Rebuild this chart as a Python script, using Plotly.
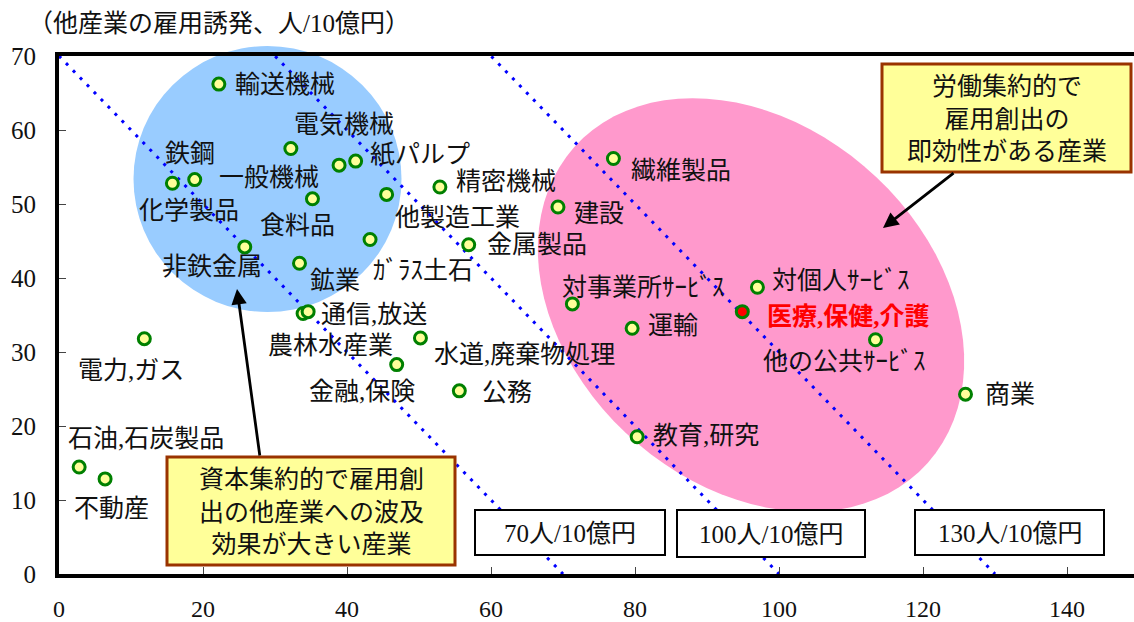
import numpy as np
import plotly.graph_objects as go

# ---------------- data ----------------
industries = ["輸送機械", "電気機械", "化学製品", "鉄鋼", "一般機械", "紙パルプ", "食料品",
              "他製造工業", "非鉄金属", "鉱業", "ｶﾞﾗｽ土石", "精密機械", "金属製品",
              "農林水産業", "通信,放送", "水道,廃棄物処理", "金融,保険", "公務",
              "電力,ガス", "石油,石炭製品", "不動産", "繊維製品", "建設",
              "対事業所ｻｰﾋﾞｽ", "対個人ｻｰﾋﾞｽ", "医療,保健,介護", "運輸",
              "他の公共ｻｰﾋﾞｽ", "商業", "教育,研究"]
direct_employment = [22.2, 32.2, 15.75, 18.85, 38.9, 41.2, 35.2,
                     45.5, 25.8, 33.4, 43.2, 52.9, 56.9,
                     33.9, 34.6, 50.2, 46.9, 55.6,
                     11.85, 2.8, 6.4, 77.0, 69.3,
                     71.3, 97.0, 94.9, 79.6,
                     113.4, 125.9, 80.3]
induced_employment = [66.2, 57.5, 52.8, 53.3, 55.25, 55.8, 50.7,
                      51.3, 44.2, 42.0, 45.2, 52.3, 44.5,
                      35.2, 35.45, 31.9, 28.3, 24.75,
                      31.8, 14.45, 12.85, 56.15, 49.6,
                      36.5, 38.75, 35.45, 33.2,
                      31.65, 24.3, 18.55]
highlight = "医療,保健,介護"
iso_totals = [70, 100, 130]
iso_labels = ["70人/10億円", "100人/10億円", "130人/10億円"]
x_ticks = [0, 20, 40, 60, 80, 100, 120, 140]
y_ticks = [0, 10, 20, 30, 40, 50, 60, 70]
axis_title = "（他産業の雇用誘発、人/10億円）"
capital_note = ["資本集約的で雇用創", "出の他産業への波及", "効果が大きい産業"]
labour_note = ["労働集約的で", "雇用創出の", "即効性がある産業"]

# ---------------- layout geometry / styles ----------------
FIG_W, FIG_H = 1134, 622
M_L, M_R, M_T, M_B = 59, 0, 56, 48
PLOT_W = FIG_W - M_L - M_R
PLOT_H = FIG_H - M_T - M_B
X_RANGE = [0, 149.3]
Y_RANGE = [0, 70]
FONT = "Liberation Serif, Noto Sans CJK JP"
LABEL_SIZE = 25


def pp(px, py):
    """pixel position in the figure -> paper coordinates"""
    return (px - M_L) / PLOT_W, (FIG_H - M_B - py) / PLOT_H


# label placement: (xanchor, x-shift px, y-shift px)
label_pos = {
    "輸送機械": ("left", 14, 0), "電気機械": ("left", 1, 24), "化学製品": ("center", 17, -27),
    "鉄鋼": ("center", -5, 26), "一般機械": ("right", -18, -12), "紙パルプ": ("left", 12, 7),
    "食料品": ("center", -15, -27), "他製造工業": ("left", 6, -23), "非鉄金属": ("right", 19, -20),
    "鉱業": ("left", 9, -17), "ｶﾞﾗｽ土石": ("left", 1, -31), "精密機械": ("left", 14, 5),
    "金属製品": ("left", 16, 0), "農林水産業": ("center", 27, -32), "通信,放送": ("left", 11, -3),
    "水道,廃棄物処理": ("left", 12, -17), "金融,保険": ("right", 20, -27), "公務": ("left", 21, -2),
    "電力,ガス": ("center", -13, -32), "石油,石炭製品": ("left", -13, 29), "不動産": ("left", -33, -30),
    "繊維製品": ("left", 16, -12), "建設": ("left", 14, -7), "対事業所ｻｰﾋﾞｽ": ("left", -12, 16),
    "対個人ｻｰﾋﾞｽ": ("left", 13, 7), "医療,保健,介護": ("left", 23, -5), "運輸": ("left", 14, 3),
    "他の公共ｻｰﾋﾞｽ": ("right", 52, -22), "商業": ("left", 17, 0), "教育,研究": ("left", 14, 1),
}

fig = go.Figure()

# iso-employment dotted lines (direct + induced = total)
for t in iso_totals:
    fig.add_trace(go.Scatter(x=[0, t], y=[t, 0], mode="lines",
                             line=dict(color="#0000ff", width=3, dash="3px,7px"),
                             hoverinfo="skip", showlegend=False))

# points
fill_colors = ["#ff0000" if n == highlight else "#ffff99" for n in industries]
fig.add_trace(go.Scatter(x=direct_employment, y=induced_employment, mode="markers",
                         marker=dict(size=12, color=fill_colors,
                                     line=dict(color="#008000", width=3)),
                         text=industries, showlegend=False))

shapes = []
# blue circle (capital-intensive)
x0, y0 = pp(133.5, 312)
x1, y1 = pp(401.5, 46)
shapes.append(dict(type="circle", xref="paper", yref="paper", x0=x0, y0=y0, x1=x1, y1=y1,
                   fillcolor="#99ccff", line=dict(width=0), layer="below"))
# pink rotated ellipse (labour-intensive)
cx, cy, a, b, th = 751, 305, 237, 179, np.deg2rad(41.8)
tt = np.linspace(0, 2 * np.pi, 90, endpoint=False)
ex = cx + a * np.cos(th) * np.cos(tt) - b * np.sin(th) * np.sin(tt)
ey = cy + a * np.sin(th) * np.cos(tt) + b * np.cos(th) * np.sin(tt)
pts = [pp(px, py) for px, py in zip(ex, ey)]
path = "M " + " L ".join(f"{p[0]:.5f},{p[1]:.5f}" for p in pts) + " Z"
shapes.append(dict(type="path", xref="paper", yref="paper", path=path,
                   fillcolor="#ff99cc", line=dict(width=0), layer="below"))

# iso-line label boxes
iso_boxes = [(475, 510, 665, 555), (677, 510, 865, 557), (915, 510, 1104, 555)]
annotations = []
for (bx0, by0, bx1, by1), lab in zip(iso_boxes, iso_labels):
    px0, py0 = pp(bx0, by1)
    px1, py1 = pp(bx1, by0)
    shapes.append(dict(type="rect", xref="paper", yref="paper", x0=px0, y0=py0, x1=px1, y1=py1,
                       fillcolor="white", line=dict(color="black", width=2), layer="above"))
    tx, ty = pp((bx0 + bx1) / 2, (by0 + by1) / 2 + 1)
    annotations.append(dict(xref="paper", yref="paper", x=tx, y=ty, text=lab, showarrow=False,
                            xanchor="center", yanchor="middle",
                            font=dict(family=FONT, size=25, color="#111111")))

# yellow note boxes
notes = [((167, 457, 455, 565), capital_note), ((882, 64, 1131, 172), labour_note)]
for (bx0, by0, bx1, by1), lines in notes:
    px0, py0 = pp(bx0, by1)
    px1, py1 = pp(bx1, by0)
    shapes.append(dict(type="rect", xref="paper", yref="paper", x0=px0, y0=py0, x1=px1, y1=py1,
                       fillcolor="#ffff99", line=dict(color="#993300", width=3), layer="above"))
    tx, ty = pp((bx0 + bx1) / 2, (by0 + by1) / 2 + 1)
    annotations.append(dict(xref="paper", yref="paper", x=tx, y=ty, text="<br>".join(lines),
                            showarrow=False, xanchor="center", yanchor="middle",
                            font=dict(family=FONT, size=25, color="#111111")))

# arrows
for (hx, hy), (tx_, ty_) in [((237, 289), (260, 457)), ((883, 228), (955, 172))]:
    ax_, ay_ = pp(hx, hy)
    annotations.append(dict(xref="paper", yref="paper", x=ax_, y=ay_, text="",
                            showarrow=True, ax=tx_ - hx, ay=ty_ - hy, axref="pixel", ayref="pixel",
                            arrowhead=2, arrowsize=1.1, arrowwidth=2.8, arrowcolor="black",
                            standoff=0, startstandoff=0))

# point labels
for n, xv, yv in zip(industries, direct_employment, induced_employment):
    anc, dx, dy = label_pos[n]
    red = n == highlight
    annotations.append(dict(x=xv, y=yv, xref="x", yref="y", text=(f"<b>{n}</b>" if red else n),
                            showarrow=False, xanchor=anc, yanchor="middle", xshift=dx, yshift=dy,
                            font=dict(family=FONT, size=LABEL_SIZE,
                                      color=("#ff0000" if red else "#111111"))))

# axis title
tx, ty = pp(26, 24)
annotations.append(dict(xref="paper", yref="paper", x=tx, y=ty, text=axis_title, showarrow=False,
                        xanchor="left", yanchor="middle",
                        font=dict(family=FONT, size=25, color="#111111")))

fig.update_layout(
    width=FIG_W, height=FIG_H,
    margin=dict(l=M_L, r=M_R, t=M_T, b=M_B, pad=0, autoexpand=False),
    paper_bgcolor="white", plot_bgcolor="rgba(0,0,0,0)",
    shapes=shapes, annotations=annotations, showlegend=False,
    xaxis=dict(range=X_RANGE, tickvals=x_ticks, ticktext=[str(v) for v in x_ticks],
               automargin=False,
               showgrid=False, zeroline=False, showline=True, linecolor="black", linewidth=4,
               mirror=True, ticks="inside", ticklen=7, tickwidth=1.2, tickcolor="#444",
               ticklabelstandoff=10,
               tickfont=dict(family="Liberation Serif", size=24, color="#111111")),
    yaxis=dict(range=Y_RANGE, tickvals=y_ticks, ticktext=[str(v) for v in y_ticks],
               automargin=False,
               showgrid=False, zeroline=False, showline=True, linecolor="black", linewidth=4,
               mirror=False, ticks="inside", ticklen=7, tickwidth=1.2, tickcolor="#444",
               ticklabelstandoff=14,
               tickfont=dict(family="Liberation Serif", size=25, color="#111111")),
)

fig.write_html("out.html")
